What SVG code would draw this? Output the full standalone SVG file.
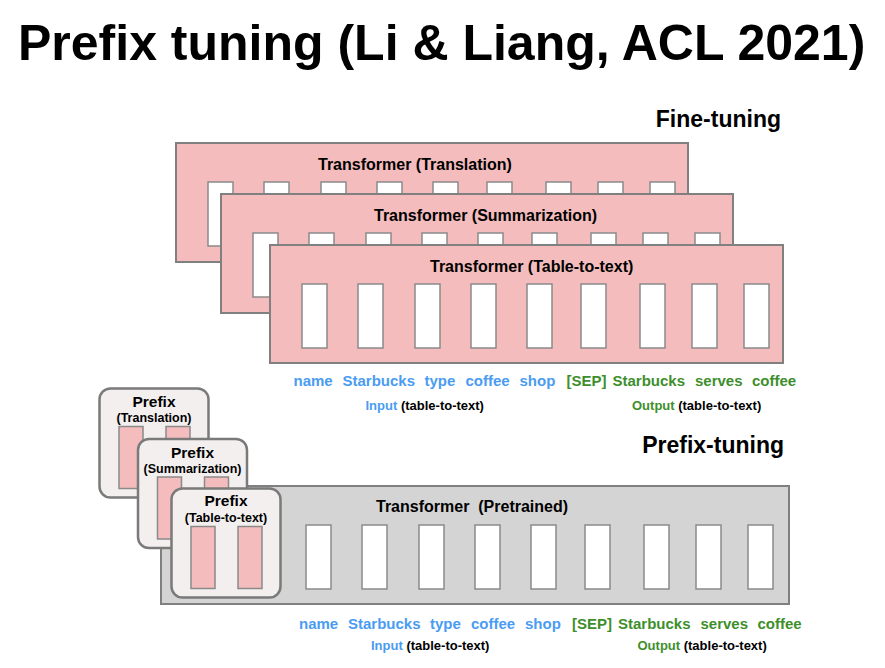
<svg xmlns="http://www.w3.org/2000/svg" width="885" height="668" viewBox="0 0 885 668">
<style>
text{font-family:"Liberation Sans",Arial,Helvetica,sans-serif;font-weight:bold;fill:#000}
.title{font-size:50px}
.sec{font-size:23px;text-anchor:end}
.bt{font-size:16px}
.w{font-size:15px}
.s{font-size:13px}
.pf{font-size:15.5px;text-anchor:middle}
.ps{font-size:12.5px;text-anchor:middle}
.blue{fill:#4a9cf2}
.green{fill:#3e8f2c}
.ft{fill:#f4bcbc;stroke:#808080;stroke-width:2}
.gr{fill:#d4d4d4;stroke:#808080;stroke-width:2}
.slot{fill:#ffffff;stroke:#8a8a8a;stroke-width:1.5}
.pbox{fill:#f3efef;stroke:#7a7a7a;stroke-width:2.5}
.pslot{fill:#f4bcbc;stroke:#8a8a8a;stroke-width:1.5}
</style>
<defs>
<g id="slots">
<rect class="slot" x="32" y="39" width="25" height="64"/>
<rect class="slot" x="88" y="39" width="25" height="64"/>
<rect class="slot" x="145" y="39" width="25" height="64"/>
<rect class="slot" x="201" y="39" width="25" height="64"/>
<rect class="slot" x="257" y="39" width="25" height="64"/>
<rect class="slot" x="311" y="39" width="25" height="64"/>
<rect class="slot" x="370" y="39" width="25" height="64"/>
<rect class="slot" x="422" y="39" width="25" height="64"/>
<rect class="slot" x="474" y="39" width="25" height="64"/>
</g>
<g id="pslots">
<rect class="pslot" x="19.5" y="38" width="24" height="62"/>
<rect class="pslot" x="66.5" y="38" width="24" height="62"/>
</g>
</defs>

<text class="title" x="18" y="60">Prefix tuning (Li &amp; Liang, ACL 2021)</text>

<text id="label-finetuning" class="sec" x="781" y="127">Fine-tuning</text>

<g id="ft-translation">
<rect class="ft" x="176" y="143" width="512" height="119"/>
<text class="bt" x="318" y="170">Transformer (Translation)</text>
<use href="#slots" x="176" y="143"/>
</g>
<g id="ft-summarization">
<rect class="ft" x="221" y="194" width="512" height="119"/>
<text class="bt" x="374" y="221">Transformer (Summarization)</text>
<use href="#slots" x="221" y="194"/>
</g>
<g id="ft-table">
<rect class="ft" x="270" y="245" width="513" height="118"/>
<text class="bt" x="430" y="272">Transformer (Table-to-text)</text>
<use href="#slots" x="270" y="245"/>
</g>

<g id="tokens-ft">
<text class="w blue" x="293.5" y="386">name</text>
<text class="w blue" x="342.5" y="386">Starbucks</text>
<text class="w blue" x="424.5" y="386">type</text>
<text class="w blue" x="465.5" y="386">coffee</text>
<text class="w blue" x="519.5" y="386">shop</text>
<text class="w green" x="566.5" y="386">[SEP]</text>
<text class="w green" x="612.5" y="386">Starbucks</text>
<text class="w green" x="695" y="386">serves</text>
<text class="w green" x="752" y="386">coffee</text>
<text class="s" x="365.5" y="410"><tspan class="blue">Input</tspan> (table-to-text)</text>
<text class="s" x="632" y="410"><tspan class="green">Output</tspan> (table-to-text)</text>
</g>

<text id="label-prefixtuning" class="sec" x="784" y="453">Prefix-tuning</text>

<g id="pretrained">
<rect class="gr" x="161" y="486" width="628" height="118"/>
<text class="bt" x="376" y="512" xml:space="preserve" style="white-space:pre">Transformer  (Pretrained)</text>
<use href="#slots" x="274" y="486"/>
</g>

<g id="prefix-translation">
<rect class="pbox" x="99.5" y="388.5" width="109" height="109" rx="11"/>
<text class="pf" x="154" y="406.5">Prefix</text>
<text class="ps" x="154" y="422">(Translation)</text>
<use href="#pslots" x="99.5" y="388.5"/>
</g>
<g id="prefix-summarization">
<rect class="pbox" x="138" y="439" width="109" height="109" rx="11"/>
<text class="pf" x="192.5" y="457.5">Prefix</text>
<text class="ps" x="192.5" y="473">(Summarization)</text>
<use href="#pslots" x="138" y="439"/>
</g>
<g id="prefix-table">
<rect class="pbox" x="171.5" y="488.5" width="109" height="109" rx="11"/>
<text class="pf" x="226" y="506">Prefix</text>
<text class="ps" x="226" y="521.5">(Table-to-text)</text>
<use href="#pslots" x="171.5" y="488.5"/>
</g>

<g id="tokens-pt">
<text class="w blue" x="299" y="629">name</text>
<text class="w blue" x="348" y="629">Starbucks</text>
<text class="w blue" x="430" y="629">type</text>
<text class="w blue" x="471" y="629">coffee</text>
<text class="w blue" x="525" y="629">shop</text>
<text class="w green" x="572" y="629">[SEP]</text>
<text class="w green" x="618" y="629">Starbucks</text>
<text class="w green" x="700.5" y="629">serves</text>
<text class="w green" x="757.5" y="629">coffee</text>
<text class="s" x="371" y="650"><tspan class="blue">Input</tspan> (table-to-text)</text>
<text class="s" x="637.5" y="650"><tspan class="green">Output</tspan> (table-to-text)</text>
</g>
</svg>
